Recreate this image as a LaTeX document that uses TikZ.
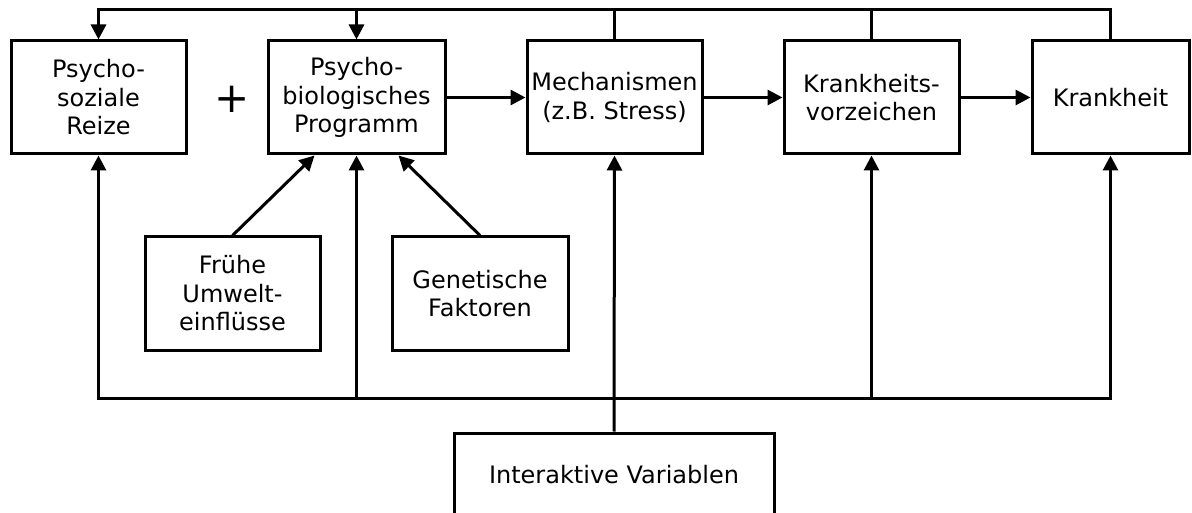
\documentclass[tikz,border=0pt]{standalone}
\usepackage{fontspec}
\setmainfont{DejaVu Sans}
\usetikzlibrary{arrows.meta,calc}
\begin{document}
\begin{tikzpicture}[x=1pt,y=-1pt,
  line width=3pt,
  box/.style={draw,line width=3pt,align=center,inner sep=0pt,
    font=\fontsize{24}{28.5}\selectfont},
  arr/.style={-{Triangle[length=15pt,width=15pt]}},
  dblarr/.style={{Triangle[length=15pt,width=15pt]}-{Triangle[length=15pt,width=15pt]}}]
\useasboundingbox (0,0) rectangle (1192,513);
\clip (0,0) rectangle (1192,513);

% main chain
\node[box,minimum width=175pt,minimum height=113pt] (b1) at (98.5,97.5) {Psycho-\\soziale\\Reize};
\node[box,minimum width=177pt,minimum height=113pt] (b2) at (356.5,97.5) {Psycho-\\biologisches\\Programm};
\node[box,minimum width=175pt,minimum height=113pt] (b3) at (614.5,97.5) {Mechanismen\\(z.B. Stress)};
\node[box,minimum width=175pt,minimum height=113pt] (b4) at (871.5,97.5) {Krankheits-\\vorzeichen};
\node[box,minimum width=157pt,minimum height=113pt] (b5) at (1110.5,97.5) {Krankheit};
\node[font=\fontsize{42}{42}\selectfont] (plus) at (232,99) {+};

% influences on the program
\node[box,minimum width=175pt,minimum height=113pt] (fr) at (232.5,293.5) {Frühe\\Umwelt-\\einflüsse};
\node[box,minimum width=176pt,minimum height=113pt] (ge) at (480,293.5) {Genetische\\Faktoren};

% interacting variables
\node[box,minimum width=320pt,minimum height=83pt] (iv) at (614,474.5) {Interaktive Variablen};

\coordinate (top) at (0,10);
\coordinate (bot) at (0,398);

% chain arrows
\draw[arr] (b2) -- (b3);
\draw[arr] (b3) -- (b4);
\draw[arr] (b4) -- (b5);

\draw[arr] (fr.north) -- ($(b2.south)+(-42,0)$);
\draw[arr] (ge.north) -- ($(b2.south)+(42,0)$);

% feedback along the top
\draw[arr] (b5.north) -- (b5.north |- top) -- (b1.north |- top) -- (b1.north);
\draw[arr] (b2.north |- top) -- (b2.north);
\draw (b3.north) -- (b3.north |- top);
\draw (b4.north) -- (b4.north |- top);

% interacting variables act on every stage
\draw[dblarr] (b1.south) -- (b1.south |- bot) -- (b5.south |- bot) -- (b5.south);
\draw[arr] (b2.south |- bot) -- (b2.south);
\draw[arr] (b4.south |- bot) -- (b4.south);
\draw[arr] (iv.north) -- (b3.south);
\end{tikzpicture}
\end{document}
